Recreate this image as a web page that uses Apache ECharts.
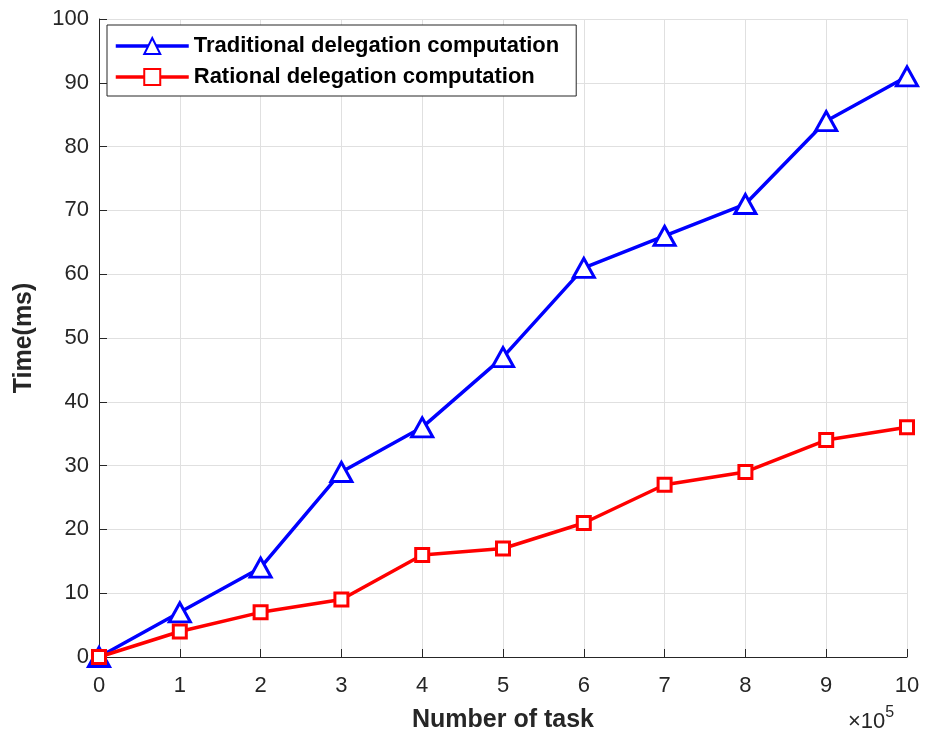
<!DOCTYPE html>
<html>
<head>
<meta charset="utf-8">
<script src="https://cdn.jsdelivr.net/npm/echarts@6/dist/echarts.min.js"></script>
<style>
  body { margin: 0; background: #fff; }
  #chart { width: 926px; height: 738px; }
</style>
</head>
<body>
<div id="chart"></div>
<script>
// 数据
var tasks = ['0', '1', '2', '3', '4', '5', '6', '7', '8', '9', '10'];
var traditional = [0, 7, 14, 29, 36, 47, 61, 66, 71, 84, 91];
var rational = [0, 4, 7, 9, 16, 17, 21, 27, 29, 34, 36];

var font = 'Liberation Sans, Arial, Helvetica, sans-serif';
var chart = echarts.init(document.getElementById('chart'));

var option = {
    backgroundColor: '#fff',
    animation: false,
    grid: { left: 99, right: 19, top: 19, bottom: 81 },
    legend: {
        left: 107, top: 25,
        orient: 'vertical',
        itemWidth: 73, itemHeight: 20, itemGap: 9,
        padding: [10, 17, 8, 7],
        borderColor: '#262626', borderWidth: 1,
        backgroundColor: '#fff',
        lineStyle: { width: 3.5 },
        textStyle: { fontFamily: font, fontWeight: 'bold', fontSize: 22, color: '#000' },
        data: ['Traditional delegation computation', 'Rational delegation computation']
    },
    xAxis: {
        type: 'value',
        min: 0, max: 10, interval: 1,
        name: 'Number of task',
        nameLocation: 'middle', nameGap: 51,
        nameTextStyle: { fontFamily: font, fontWeight: 'bold', fontSize: 25, color: '#262626' },
        axisLine: { lineStyle: { color: '#262626', width: 1 } },
        axisTick: { inside: true, length: 8, lineStyle: { color: '#262626' } },
        axisLabel: { fontFamily: font, fontSize: 22, color: '#262626', margin: 18 },
        splitLine: { show: true, lineStyle: { color: '#e0e0e0', width: 1 } }
    },
    yAxis: {
        type: 'value',
        min: 0, max: 100, interval: 10,
        name: 'Time(ms)',
        nameLocation: 'middle', nameGap: 62,
        nameTextStyle: { fontFamily: font, fontWeight: 'bold', fontSize: 25, color: '#262626' },
        axisLine: { show: true, lineStyle: { color: '#262626', width: 1 } },
        axisTick: { show: true, inside: true, length: 8, lineStyle: { color: '#262626' } },
        axisLabel: { fontFamily: font, fontSize: 22, color: '#262626', margin: 10 },
        splitLine: { show: true, lineStyle: { color: '#e0e0e0', width: 1 } }
    },
    graphic: [{
        type: 'text',
        left: 848, top: 705,
        style: {
            text: '{a|×10}{b|5}',
            rich: {
                a: { fontFamily: font, fontSize: 22, fill: '#262626', verticalAlign: 'bottom' },
                b: { fontFamily: font, fontSize: 16, fill: '#262626', verticalAlign: 'top', padding: [0, 0, 12, 0] }
            }
        }
    }],
    series: [
        {
            name: 'Traditional delegation computation',
            type: 'line',
            data: tasks.map(function (t, i) { return [Number(t), traditional[i]]; }),
            symbol: 'triangle', symbolSize: [21, 19],
            lineStyle: { color: '#0000ff', width: 3.5 },
            itemStyle: { color: '#fff', borderColor: '#0000ff', borderWidth: 3 },
            color: '#0000ff',
            z: 3
        },
        {
            name: 'Rational delegation computation',
            type: 'line',
            data: tasks.map(function (t, i) { return [Number(t), rational[i]]; }),
            symbol: 'rect', symbolSize: 13,
            lineStyle: { color: '#ff0000', width: 3.5 },
            itemStyle: { color: '#fff', borderColor: '#ff0000', borderWidth: 3 },
            color: '#ff0000',
            z: 4
        }
    ]
};
chart.setOption(option);
</script>
</body>
</html>
